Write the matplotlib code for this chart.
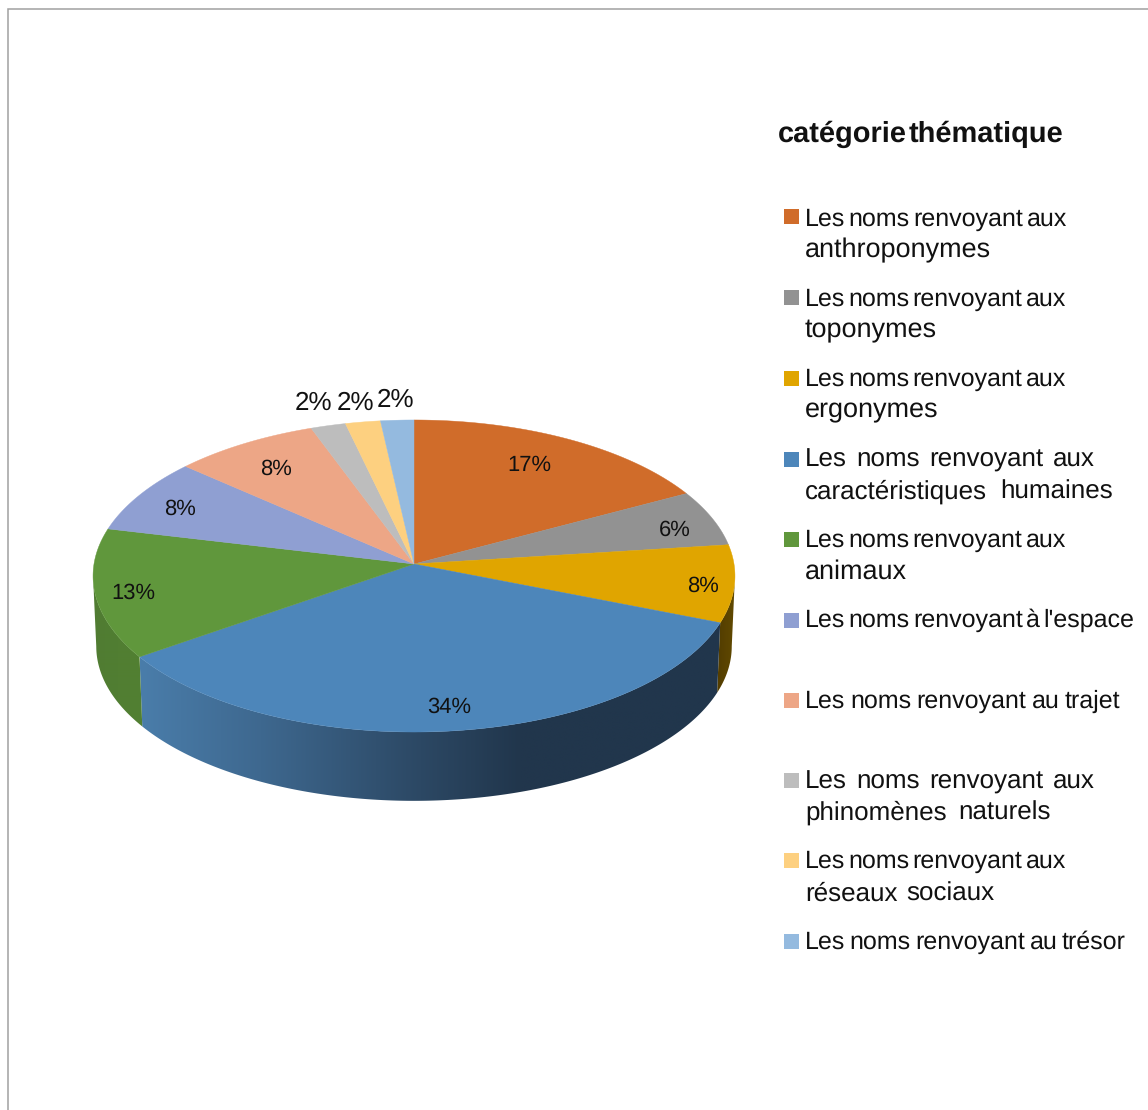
import numpy as np
import matplotlib
matplotlib.use("Agg")
import matplotlib.pyplot as plt
from matplotlib.patches import Polygon, Rectangle

plt.rcParams['font.family'] = ['Liberation Sans', 'DejaVu Sans']
plt.rcParams['text.hinting'] = 'none'
plt.rcParams['text.hinting_factor'] = 1

# Chart data
title = "catégorie thématique"
shares = [17.2, 5.8, 8.0, 34.3, 13.4, 7.8, 7.9, 1.9, 1.9, 1.8]
category_lines = [
    ["Les noms renvoyant aux", "anthroponymes"],
    ["Les noms renvoyant aux", "toponymes"],
    ["Les noms renvoyant aux", "ergonymes"],
    ["Les noms renvoyant aux", "caractéristiques humaines"],
    ["Les noms renvoyant aux", "animaux"],
    ["Les noms renvoyant à l'espace"],
    ["Les noms renvoyant au trajet"],
    ["Les noms renvoyant aux", "phinomènes naturels"],
    ["Les noms renvoyant aux", "réseaux sociaux"],
    ["Les noms renvoyant au trésor"],
]

# Styling
top_colors = ["#D06C2A", "#929292", "#E0A500", "#4D86BA", "#60973C",
              "#8F9FD2", "#EDA686", "#BDBDBD", "#FDD080", "#94BADF"]
TEXT = "#111111"

# Layout of the tilted disc, in figure pixels
CX, CY = 414.0, 564.0
RX, RY = 320.0, 155.1
PERSP = 0.0769
WALL_DROP = 70.5
WALL_SCALE = 0.99

# Legend text: line right edges, baselines and font sizes
line_right = [[1067, 988], [1066, 934], [1066, 936], [1095, 1113], [1066, 904],
              [1134], [1120], [1095, 1051], [1066, 994], [1126]]
line_base = [[225, 257], [305, 337], [385, 417], [466, 498], [546, 578],
             [626], [707], [788, 819], [867, 900], [948]]
line_size = [[18.0, 19.3], [18.0, 19.3], [18.0, 19.3], [19.0, 18.9], [18.0, 19.3],
             [18.0], [18.3], [19.0, 18.9], [18.0, 18.9], [18.0]]
swatch_mid = [216.5, 297.5, 378.5, 459, 539, 620, 700, 780, 860, 941]
label_xy = [(529, 465), (675, 530), (703, 586), (449, 707), (133, 593),
            (180, 509), (276, 469), (313, 403), (355, 403), (395, 400)]
label_px = [22, 22, 22, 22, 22, 22, 22, 26, 26, 26]

# Wall shading across x for the slices whose side is visible
wall_shades = {
    2: ([720, 735], [[84, 62, 0], [98, 74, 0]]),
    3: ([140, 260, 420, 520, 735],
        [[74, 125, 170], [62, 104, 143], [44, 72, 100], [33, 54, 76], [33, 54, 76]]),
    4: ([93, 142], [[80, 124, 50], [82, 128, 50]]),
}


def rim(theta, scale=1.0, drop=0.0):
    """Project angles (clockwise from the back) onto the tilted disc's rim."""
    denom = 1 + PERSP * np.cos(theta)
    x = CX + scale * RX * np.sin(theta) / denom
    y = CY + drop - scale * RY * np.cos(theta) / denom
    return x, y


fig = plt.figure(figsize=(11.48, 11.10), dpi=100, facecolor="white")
ax = fig.add_axes([0, 0, 1, 1])
ax.axis("off")

# Chart area frame, open towards the right and bottom
ax.plot([8, 8, 1148], [1110, 9, 9], color="#A0A0A0", lw=1.1, solid_joinstyle="miter")

edges = 2 * np.pi * np.cumsum([0] + shares) / sum(shares)

# Rim wall: only the part facing the viewer is seen
wall_start = np.arccos(-PERSP)
wall_end = 2 * np.pi - wall_start
for i, (xs, stops) in wall_shades.items():
    a = max(edges[i], wall_start)
    b = min(edges[i + 1], wall_end)
    t = np.linspace(a, b, 200)
    x0, y0 = rim(t)
    x1, y1 = rim(t, WALL_SCALE, WALL_DROP)
    outline = Polygon(np.column_stack([np.r_[x0, x1[::-1]], np.r_[y0, y1[::-1]]]),
                      closed=True, facecolor="none", edgecolor="none", transform=ax.transData)
    ax.add_patch(outline)
    left, right = min(x0.min(), x1.min()), max(x0.max(), x1.max())
    grid = np.linspace(left, right, 400)
    stops = np.array(stops) / 255
    strip = np.stack([np.interp(grid, xs, stops[:, k]) for k in range(3)], axis=-1)[None, :, :]
    im = ax.imshow(strip, extent=(left, right, y1.max() + 1, y0.min() - 1),
                   aspect="auto", interpolation="bilinear", zorder=1)
    im.set_clip_path(outline)

# Top face of the disc
for i, col in enumerate(top_colors):
    t = np.linspace(edges[i], edges[i + 1], 120)
    x, y = rim(t)
    pts = np.column_stack([np.r_[CX, x], np.r_[CY, y]])
    ax.add_patch(Polygon(pts, closed=True, facecolor=col, edgecolor=col, lw=0.3, zorder=2))

ax.set_xlim(0, 1148)
ax.set_ylim(1110, 0)

# Percentage labels
for share, (x, y), px in zip(shares, label_xy, label_px):
    ax.text(x, y, f"{round(share)}%", fontsize=px * 0.72, ha="center", va="center",
            color=TEXT, zorder=3)

fig.canvas.draw()
renderer = fig.canvas.get_renderer()


def spaced_line(text, left, right, base, size, weight="normal"):
    """Write a line word by word so that it spans left..right."""
    words = text.split(" ")
    # The small offset keeps words with and without descenders on one pixel row
    artists = [ax.text(left, base + 0.49, w, fontsize=size, fontweight=weight,
                       ha="left", va="baseline", color=TEXT) for w in words]
    widths = [a.get_window_extent(renderer).width for a in artists]
    gap = (right - left - sum(widths)) / max(1, len(words) - 1)
    x = left
    for a, w in zip(artists, widths):
        a.set_x(x)
        x += w + gap


# Legend
spaced_line(title, 778, 1063, 141, 20.6, "bold")
for i, lines in enumerate(category_lines):
    ax.add_patch(Rectangle((783.5, swatch_mid[i] - 7.5), 15, 15,
                           facecolor=top_colors[i], edgecolor="none"))
    for text, right, base, size in zip(lines, line_right[i], line_base[i], line_size[i]):
        spaced_line(text, 805, right, base, size)

fig.savefig("out.png", dpi=100)
